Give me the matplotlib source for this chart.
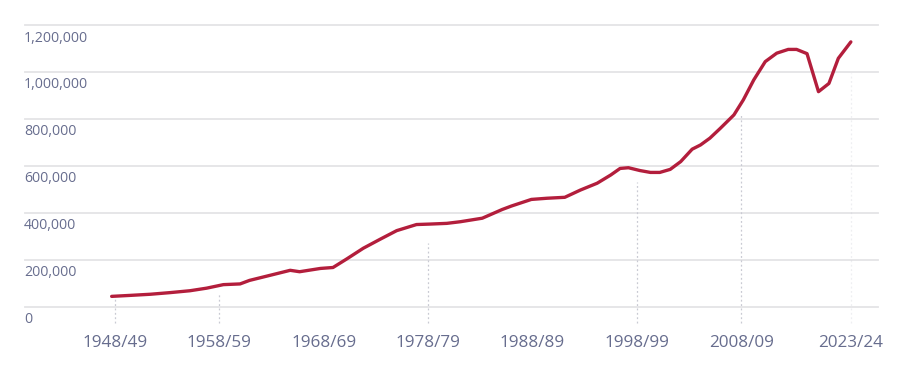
import matplotlib
matplotlib.use("Agg")
import matplotlib.pyplot as plt
import matplotlib.transforms as mtransforms

# position along the year axis (as labelled) and enrolled students
x_year = [1948.2, 1949.9, 1951.9, 1953.8, 1955.7, 1957.3, 1958.9, 1960.5, 1961.4,
          1963.4, 1965.3, 1966.2, 1968.2, 1969.4, 1970.7, 1972.3, 1973.9, 1975.5,
          1977.4, 1978.7, 1980.3, 1981.6, 1983.7, 1985.6, 1986.5, 1988.4, 1989.9,
          1991.6, 1993.1, 1994.7, 1996.0, 1996.9, 1997.7, 1998.8, 1999.8, 2000.7,
          2001.7, 2002.7, 2003.8, 2004.6, 2005.5, 2006.5, 2007.8, 2008.7, 2009.7,
          2010.8, 2011.9, 2013.0, 2013.8, 2014.8, 2015.9, 2016.9, 2017.8, 2019.0]
students = [44000, 48000, 53000, 60000, 68000, 79000, 94000, 97000, 112000,
            134000, 155000, 149000, 163000, 167000, 203000, 249000, 287000, 324000,
            350000, 352000, 355000, 362000, 377000, 414000, 429000, 457000, 462000,
            466000, 497000, 526000, 561000, 589000, 592000, 580000, 572000, 572000,
            585000, 618000, 671000, 689000, 718000, 760000, 817000, 881000, 966000,
            1044000, 1080000, 1096000, 1096000, 1078000, 916000, 951000, 1058000, 1128000]

tick_pos = [1948.5, 1958.5, 1968.5, 1978.5, 1988.5, 1998.5, 2008.5, 2019.0]
tick_labels = ["1948/49", "1958/59", "1968/69", "1978/79", "1988/89",
               "1998/99", "2008/09", "2023/24"]
# dotted guides under some labels: (tick index, top value)
guide_idx = [0, 1, 3, 5, 6, 7]
guide_top = [41000, 58000, 271000, 531000, 825000, 996000]

y_ticks = [0, 200000, 400000, 600000, 800000, 1000000, 1200000]

plt.rcParams['font.family'] = ['Open Sans', 'DejaVu Sans']
label_col = '#676d8e'
line_col = '#b31e3c'

fig = plt.figure(figsize=(9.1, 3.7), dpi=100)
ax = fig.add_axes([25 / 910, (370 - 306.7) / 370, 853 / 910, 281.7 / 370])
ax.set_xlim(1939.9, 2021.6)
ax.set_ylim(0, 1200000)
for s in ax.spines.values():
    s.set_visible(False)

for v in y_ticks:
    ax.axhline(v, color='#e4e4e6', lw=1.3, zorder=0, clip_on=False)
    tr = mtransforms.offset_copy(ax.get_yaxis_transform(), fig=fig, x=-1, y=-13, units='dots')
    ax.text(0, v, f"{v:,}", transform=tr, ha='left', va='center',
            fontsize=10.2, color=label_col)
ax.set_yticks([])

for i, top in zip(guide_idx, guide_top):
    alpha = 0.3 if i == 7 else 1.0
    ax.vlines(tick_pos[i], -70000, top, colors='#c9cad3', lw=0.9,
              linestyles=(0, (1.5, 2)), clip_on=False, zorder=1, alpha=alpha)

ax.plot(x_year, students, color=line_col, lw=2.4, solid_joinstyle='round',
        solid_capstyle='round', clip_on=False, zorder=3)

ax.set_xticks(tick_pos, tick_labels)
ax.tick_params(axis='x', length=0, pad=20.5, labelsize=12.3, labelcolor=label_col)

fig.savefig("out.png", dpi=100, facecolor='white')
